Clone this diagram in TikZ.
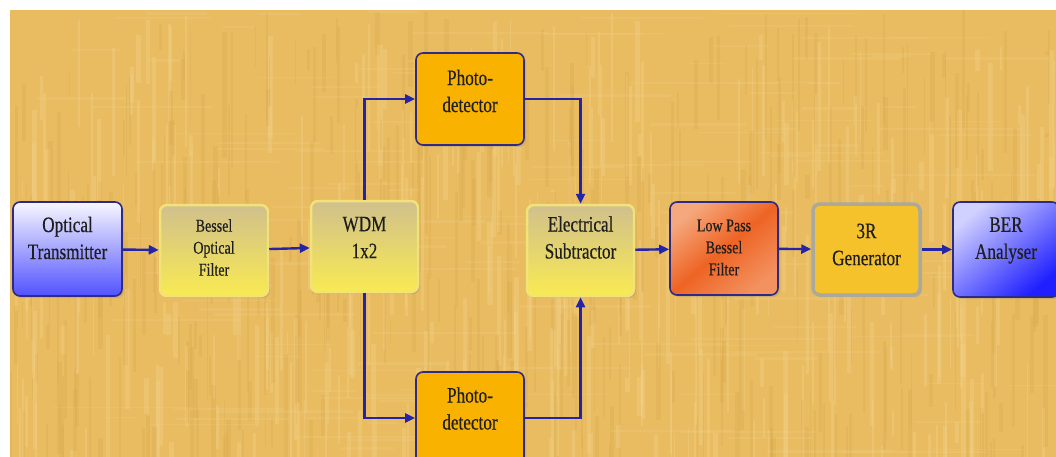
\documentclass[tikz,border=0pt]{standalone}
\usepackage{fontspec}
\setmainfont{Liberation Serif}[FakeStretch=0.78,FakeBold=0.4]
\usetikzlibrary{arrows.meta,shadows}
\definecolor{bgbase}{HTML}{E9BC62}
\definecolor{bglight}{HTML}{F5D898}
\definecolor{bgdark}{HTML}{D4A040}
\definecolor{arrowc}{HTML}{2424A8}
\definecolor{navy}{HTML}{2E2A86}
\definecolor{ylborder}{HTML}{F2E27A}
\definecolor{pdfill}{HTML}{F9B200}
\definecolor{genfill}{HTML}{F5C22C}
\definecolor{genborder}{HTML}{ABA89C}
\definecolor{txt}{HTML}{1E1E1E}
\definecolor{khaki}{HTML}{D0C08C}
\definecolor{yel}{HTML}{F9EA52}
\definecolor{peach}{HTML}{FAD4B8}
\definecolor{orng}{HTML}{EE6424}
\tikzset{
  blk/.style={rounded corners=7pt, minimum width=#1,
    drop shadow={opacity=0.25, shadow xshift=2pt, shadow yshift=-2pt}},
  lbl/.style={align=center, text=txt},
  big/.style={lbl, font=\fontsize{22}{27}\selectfont},
  small/.style={lbl, font=\fontsize{18}{22}\selectfont},
  yelbox/.style={draw=ylborder, line width=2.5pt, top color=khaki, bottom color=yel},
  navybox/.style={draw=navy, line width=1.6pt},
  conn/.style={draw=arrowc, line width=2.4pt, -{Triangle[length=10pt,width=9pt]}},
}
\begin{document}
\begin{tikzpicture}[x=1pt,y=-1pt]
\useasboundingbox (0,0) rectangle (1056,457);
% background papyrus
\fill[bgbase] (10,10) rectangle (1056,457);
\begin{scope}
\clip (10,10) rectangle (1056,457);
\pgfmathsetseed{7}
\foreach \i in {1,...,700}{
  \pgfmathsetmacro\xx{10+1046*rnd}
  \pgfmathsetmacro\ww{1+4*rnd}
  \pgfmathsetmacro\yy{10+440*rnd}
  \pgfmathsetmacro\hh{20+120*rnd}
  \pgfmathsetmacro\cc{rnd}
  \ifdim\cc pt>0.5pt
    \fill[bglight,opacity=0.25] (\xx,\yy) rectangle ++(\ww,\hh);
  \else
    \fill[bgdark,opacity=0.2] (\xx,\yy) rectangle ++(\ww,\hh);
  \fi
}
\foreach \i in {1,...,150}{
  \pgfmathsetmacro\yy{10+447*rnd}
  \pgfmathsetmacro\hh{1+2*rnd}
  \pgfmathsetmacro\xx{10+1000*rnd}
  \pgfmathsetmacro\ww{30+120*rnd}
  \fill[bglight,opacity=0.15] (\xx,\yy) rectangle ++(\ww,\hh);
}
\end{scope}
% blocks
\node[blk=109pt, minimum height=94pt, navybox,
      top color=blue!3!white, bottom color=blue!68!white] (ot) at (67.5,249) {};
\node[blk=108pt, minimum height=91pt, yelbox] (bof) at (214,250.5) {};
\node[blk=107pt, minimum height=91pt, yelbox] (wdm) at (364.5,246.5) {};
\node[blk=107pt, minimum height=91pt, yelbox] (es) at (580.5,250.5) {};
\node[blk=108pt, minimum height=93pt, navybox,
      top color=peach!60!orng, bottom color=peach!40!orng, middle color=orng, shading angle=40] (lp) at (724,248.5) {};
\node[blk=107pt, minimum height=91pt, draw=genborder, line width=3.5pt, fill=genfill] (gen) at (866.5,249.5) {};
\node[blk=106pt, minimum height=95pt, navybox,
      top color=blue!18!white, bottom color=blue!88!white, shading angle=40] (ber) at (1006,249.5) {};
\node[blk=108pt, minimum height=92pt, navybox, fill=pdfill] (pdt) at (470,99) {};
\node[blk=108pt, minimum height=92pt, navybox, fill=pdfill] (pdb) at (470,418) {};
% texts
\node[big]   (ot-t)  at ([yshift=11pt]ot.center)  {Optical\\Transmitter};
\node[small] (bof-t) at ([yshift=3pt]bof.center)  {Bessel\\Optical\\Filter};
\node[big]   (wdm-t) at ([yshift=9pt]wdm.center)  {WDM\\1x2};
\node[big]   (es-t)  at ([yshift=13pt]es.center)  {Electrical\\Subtractor};
\node[small] (lp-t)  at ([yshift=1pt]lp.center)   {Low Pass\\Bessel\\Filter};
\node[big]   (gen-t) at ([yshift=5pt]gen.center)  {3R\\Generator};
\node[big]   (ber-t) at ([yshift=9pt]ber.center)  {BER\\Analyser};
\node[big]   (pdt-t) at ([yshift=8pt]pdt.center)  {Photo-\\detector};
\node[big]   (pdb-t) at ([yshift=9.5pt]pdb.center) {Photo-\\detector};
% connectors
\draw[conn] (ot) -- (bof);
\draw[conn] (bof) -- (wdm);
\draw[conn] (wdm.north) |- (pdt.west);
\draw[conn] (wdm.south) |- (pdb.west);
\draw[conn] (pdt.east) -| (es.north);
\draw[conn] (pdb.east) -| (es.south);
\draw[conn] (es) -- (lp);
\draw[conn] (lp) -- (gen);
\draw[conn] (gen) -- (ber);
\end{tikzpicture}
\end{document}
